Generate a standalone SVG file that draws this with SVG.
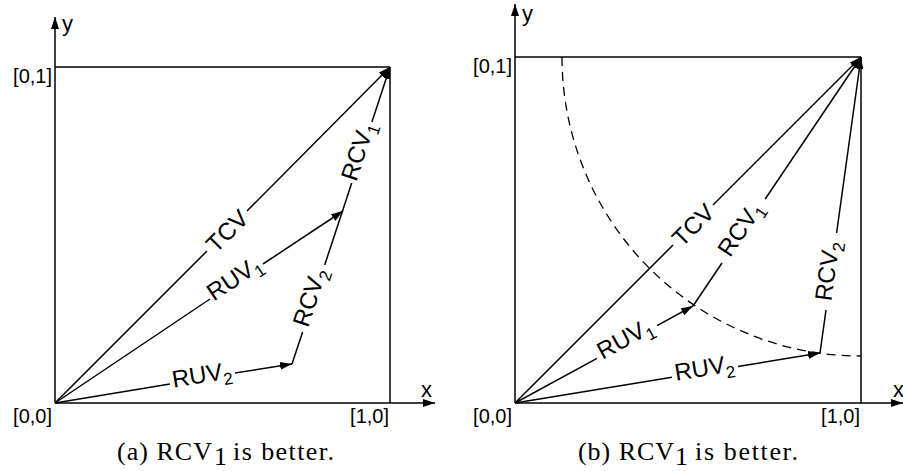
<svg xmlns="http://www.w3.org/2000/svg" width="903" height="471" viewBox="0 0 903 471">
<defs>
<marker id="ah" viewBox="0 0 12 8" refX="12" refY="4" markerWidth="12" markerHeight="8" markerUnits="userSpaceOnUse" orient="auto"><path d="M0,0 L12,4 L0,8 z" style="fill:#000;stroke:none"/></marker>
<style>
line,.arc{stroke:#000;stroke-width:1.5;fill:none}
.v{marker-end:url(#ah)}
.dash{stroke-width:1.3;stroke-dasharray:9 6}
text{font-family:"Liberation Sans",Arial,sans-serif;fill:#000}
.lab{font-size:24px;text-anchor:middle}
.ax{font-size:20px}
.axn{font-size:22px}
.cap{font-family:"Liberation Serif","Times New Roman",serif;font-size:26px}
</style>
</defs>
<rect width="903" height="471" fill="#fff"/>

<g id="panel-a">
<g id="axes-a">
<line class="v" x1="55" y1="403" x2="55" y2="17"/>
<line class="v" x1="55" y1="403" x2="435" y2="403"/>
<line x1="55" y1="67" x2="390" y2="67"/>
<line x1="390" y1="67" x2="390" y2="403"/>
<text class="axn" x="62" y="31">y</text>
<text class="axn" x="421" y="397">x</text>
<text class="ax" x="52" y="83" text-anchor="end">[0,1]</text>
<text class="ax" x="52" y="423" text-anchor="end">[0,0]</text>
<text class="ax" x="389" y="423" text-anchor="end">[1,0]</text>
</g>
<g id="connectors-a">
<line x1="55" y1="403" x2="207" y2="251"/><line class="v" x1="247" y1="211" x2="390" y2="67"/>
<line x1="55" y1="403" x2="210" y2="299"/><line class="v" x1="263" y1="264" x2="343" y2="211"/>
<line x1="55" y1="403" x2="170" y2="384"/><line class="v" x1="235" y1="373" x2="292" y2="364"/>
<line x1="292" y1="364" x2="302.6" y2="332"/><line x1="324.7" y1="265" x2="342.5" y2="211"/>
<line x1="342.5" y1="211" x2="351.7" y2="183"/><line class="v" x1="371.9" y1="122" x2="390" y2="67"/>
</g>
<g id="label-tcv-a" transform="translate(227,231) rotate(-45)"><text class="lab" x="0" y="8.5">TCV</text></g>
<g id="label-ruv1-a" transform="translate(236.5,281.5) rotate(-33.8)"><text class="lab" x="0" y="4">RUV<tspan font-size="17" dy="6">1</tspan></text></g>
<g id="label-ruv2-a" transform="translate(202.5,378.8) rotate(-9.35)"><text class="lab" x="0" y="4">RUV<tspan font-size="17" dy="6">2</tspan></text></g>
<g id="label-rcv2-a" transform="translate(313.6,298.5) rotate(-71.7)"><text class="lab" x="0" y="4">RCV<tspan font-size="17" dy="6">2</tspan></text></g>
<g id="label-rcv1-a" transform="translate(361.8,152.5) rotate(-71.7)"><text class="lab" x="0" y="4">RCV<tspan font-size="17" dy="6">1</tspan></text></g>
<g id="caption-a">
<text class="cap" x="117" y="460" textLength="95" lengthAdjust="spacing">(a) RCV</text>
<text class="cap" x="214" y="465" font-size="16">1</text>
<text class="cap" x="233" y="460" textLength="101" lengthAdjust="spacing">is better.</text>
</g>
</g>

<g id="panel-b">
<g id="axes-b">
<line class="v" x1="515" y1="403" x2="515" y2="4"/>
<line class="v" x1="515" y1="403" x2="903" y2="403"/>
<line x1="515" y1="57" x2="861" y2="57"/>
<line x1="861" y1="57" x2="861" y2="403"/>
<text class="axn" x="522" y="21">y</text>
<text class="axn" x="893" y="397">x</text>
<text class="ax" x="512" y="73" text-anchor="end">[0,1]</text>
<text class="ax" x="512" y="423" text-anchor="end">[0,0]</text>
<text class="ax" x="860" y="423" text-anchor="end">[1,0]</text>
</g>
<path id="arc-b" class="arc dash" d="M562,57 A299,299 0 0 0 861,356"/>
<g id="connectors-b">
<line x1="515" y1="403" x2="673" y2="245"/><line class="v" x1="713" y1="205" x2="861" y2="57"/>
<line x1="515" y1="403" x2="597" y2="358.3"/><line class="v" x1="657" y1="325.6" x2="693" y2="306"/>
<line x1="693" y1="306" x2="722" y2="263"/><line class="v" x1="765.2" y1="199" x2="861" y2="57"/>
<line x1="515" y1="403" x2="672" y2="377.3"/><line class="v" x1="738" y1="366.4" x2="820" y2="353"/>
<line x1="820" y1="353" x2="826" y2="310"/><line class="v" x1="836.6" y1="233" x2="861" y2="57"/>
</g>
<g id="label-tcv-b" transform="translate(693,225) rotate(-45)"><text class="lab" x="0" y="8.5">TCV</text></g>
<g id="label-ruv1-b" transform="translate(627,342) rotate(-28.6)"><text class="lab" x="0" y="4">RUV<tspan font-size="17" dy="6">1</tspan></text></g>
<g id="label-rcv1-b" transform="translate(743.6,231) rotate(-56)"><text class="lab" x="0" y="4">RCV<tspan font-size="17" dy="6">1</tspan></text></g>
<g id="label-ruv2-b" transform="translate(705,371.9) rotate(-9.3)"><text class="lab" x="0" y="4">RUV<tspan font-size="17" dy="6">2</tspan></text></g>
<g id="label-rcv2-b" transform="translate(831.3,271.5) rotate(-82.1)"><text class="lab" x="0" y="4">RCV<tspan font-size="17" dy="6">2</tspan></text></g>
<g id="caption-b">
<text class="cap" x="578" y="460" textLength="96" lengthAdjust="spacing">(b) RCV</text>
<text class="cap" x="675" y="465" font-size="16">1</text>
<text class="cap" x="695" y="460" textLength="103" lengthAdjust="spacing">is better.</text>
</g>
</g>
</svg>
